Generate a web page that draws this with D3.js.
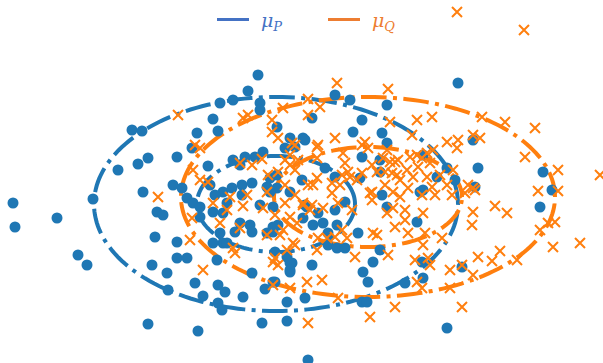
<!DOCTYPE html>
<html>
<head>
<meta charset="utf-8">
<script src="https://cdn.jsdelivr.net/npm/d3@7"></script>
<style>
  body { margin: 0; background: #fff; }
  #chart-div svg { display: block; }
</style>
</head>
<body>
<div id="chart-div"></div>
<script>
// samples from P (blue dots) in plot units (x right, y down)
const pSamples = [
  [258,75],[248,91],[458,83],[132,130],[142,131],[220,103],[233,100],[260,103],[260,110],[213,119],
  [197,133],[218,131],[192,148],[177,157],[148,158],[138,164],[118,170],[143,192],[173,185],[182,188],
  [187,198],[93,199],[13,203],[15,227],[57,218],[78,255],[87,265],[155,237],[177,242],[152,265],
  [167,273],[177,258],[187,258],[195,283],[168,290],[203,296],[218,285],[225,292],[243,297],[218,303],
  [222,310],[148,324],[198,331],[262,323],[287,321],[287,302],[265,289],[273,282],[252,273],[217,260],
  [223,243],[213,243],[220,233],[157,212],[163,215],[200,217],[240,223],[250,225],[252,232],[267,233],
  [273,232],[278,225],[275,252],[287,257],[290,272],[292,263],[208,166],[233,160],[245,157],[255,157],
  [263,152],[240,165],[210,185],[223,192],[232,188],[242,185],[252,183],[215,195],[242,195],[267,187],
  [193,203],[200,207],[227,203],[260,205],[223,213],[213,212],[235,232],[227,243],[277,127],[290,138],
  [303,138],[285,148],[295,147],[335,95],[350,100],[387,105],[312,118],[362,120],[353,132],[382,133],
  [305,140],[387,143],[362,157],[380,160],[325,168],[360,178],[447,168],[478,168],[437,177],[423,190],
  [475,187],[543,172],[552,190],[540,207],[473,140],[305,205],[382,195],[420,192],[423,155],[455,180],
  [270,178],[277,175],[335,177],[277,188],[302,180],[290,192],[270,192],[387,207],[417,222],[380,250],
  [405,283],[423,278],[462,267],[422,262],[273,207],[307,207],[303,218],[318,213],[313,225],[323,223],
  [328,233],[337,225],[335,210],[345,202],[328,245],[337,248],[345,248],[358,233],[273,227],[290,263],
  [290,270],[312,265],[373,262],[363,272],[368,282],[275,282],[305,298],[362,302],[367,302],[447,328],
  [308,360],[380,172]
];

// samples from Q (orange crosses)
const qSamples = [
  [457,12],[524,30],[337,83],[388,89],[308,99],[320,107],[308,115],[283,108],[178,115],[243,118],
  [248,115],[272,120],[272,132],[278,138],[195,145],[200,148],[292,143],[285,160],[240,163],[252,165],
  [262,159],[193,170],[200,180],[208,182],[268,175],[158,197],[230,197],[247,195],[267,192],[285,203],
  [213,203],[243,206],[335,138],[362,145],[295,145],[318,145],[290,155],[298,160],[290,165],[317,158],
  [345,163],[368,148],[362,173],[372,165],[278,172],[295,170],[317,178],[285,185],[342,175],[340,185],
  [350,177],[332,183],[308,185],[357,180],[295,195],[332,193],[370,193],[365,142],[417,120],[432,117],
  [390,122],[412,135],[447,142],[458,140],[473,135],[480,138],[457,148],[417,155],[427,153],[422,158],
  [433,150],[390,162],[398,160],[410,157],[385,172],[397,175],[407,170],[418,167],[430,163],[400,180],
  [413,177],[427,177],[440,175],[453,170],[385,185],[393,192],[408,188],[432,187],[447,185],[468,185],
  [435,195],[452,195],[465,193],[475,190],[422,195],[400,197],[317,147],[343,153],[387,150],[383,158],
  [395,162],[377,172],[392,173],[313,185],[348,172],[303,205],[372,200],[372,192],[482,117],[505,122],
  [535,128],[525,157],[558,170],[600,175],[473,188],[538,191],[558,191],[495,206],[507,213],[473,212],
  [472,225],[548,223],[555,222],[540,230],[553,247],[580,243],[500,251],[478,257],[492,261],[517,260],
  [473,275],[192,218],[227,210],[220,223],[240,228],[263,208],[267,235],[190,240],[233,248],[235,253],
  [203,270],[273,285],[290,288],[275,258],[278,265],[287,250],[293,243],[290,217],[283,230],[303,203],
  [312,205],[323,208],[338,203],[352,210],[275,215],[297,223],[280,235],[295,245],[273,262],[318,238],
  [317,250],[327,238],[335,237],[342,230],[347,238],[355,257],[307,282],[322,280],[338,298],[373,233],
  [310,210],[377,235],[388,255],[423,213],[425,233],[423,245],[442,238],[415,260],[428,258],[430,265],
  [417,282],[422,288],[450,270],[462,265],[462,307],[395,307],[370,317],[308,323],[393,208],[387,213],
  [405,210],[395,227],[405,220],[408,233],[450,288]
];

// covariance contours: mean and semi-axes (inner, outer)
const muP = [276, 204];
const muQ = [368, 197];
const pRadii = [[79, 48], [182, 107]];
const qRadii = [[94, 50], [187, 100]];

const legendLabels = [["\u03bc", "P"], ["\u03bc", "Q"]];

const width = 603, height = 363;
const dotColor = "#1f77b4", crossColor = "#ff7f0e";
const legendColors = ["#4472C4", "#ED7D31"];

var x = d3.scaleLinear().domain([0, 603]).range([0, width]);
var y = d3.scaleLinear().domain([0, 363]).range([0, height]);

var svg = d3.select("#chart-div").append("svg")
  .attr("width", width)
  .attr("height", height);

// ellipse path, starting at the right and going counter-clockwise like matplotlib
var ellipsePath = (c, r) => {
  var pts = d3.range(0, 361, 2).map(a => {
    var t = a * Math.PI / 180;
    return [x(c[0] + r[0] * Math.cos(t)), y(c[1] - r[1] * Math.sin(t))];
  });
  return d3.line()(pts);
};

var contours = [];
pRadii.forEach(r => contours.push({c: muP, r: r, color: dotColor}));
qRadii.forEach(r => contours.push({c: muQ, r: r, color: crossColor}));

// dash-dot contours (under the markers)
svg.append("g")
  .selectAll("path")
  .data(contours)
  .enter().append("path")
    .attr("d", d => ellipsePath(d.c, d.r))
    .attr("fill", "none")
    .attr("stroke", d => d.color)
    .attr("stroke-width", 4)
    .attr("stroke-dasharray", "25.6,6.4,4,6.4");

// blue dots
svg.append("g")
  .selectAll("circle")
  .data(pSamples)
  .enter().append("circle")
    .attr("cx", d => x(d[0]))
    .attr("cy", d => y(d[1]))
    .attr("r", 5.5)
    .attr("fill", dotColor);

// orange crosses
var s = 5;
svg.append("g")
  .selectAll("path")
  .data(qSamples)
  .enter().append("path")
    .attr("d", d => {
      var cx = x(d[0]), cy = y(d[1]);
      return "M" + (cx - s) + "," + (cy - s) + "L" + (cx + s) + "," + (cy + s) +
             "M" + (cx - s) + "," + (cy + s) + "L" + (cx + s) + "," + (cy - s);
    })
    .attr("stroke", crossColor)
    .attr("stroke-width", 2)
    .attr("fill", "none");

// legend
var legend = svg.append("g").attr("class", "legend");
var legendX = [217, 328];
legendLabels.forEach((lab, i) => {
  var g = legend.append("g").attr("transform", "translate(" + legendX[i] + ",0)");
  g.append("line")
    .attr("x1", 0).attr("x2", 32)
    .attr("y1", 19.5).attr("y2", 19.5)
    .attr("stroke", legendColors[i])
    .attr("stroke-width", 3);
  var t = g.append("text")
    .attr("x", 44).attr("y", 27)
    .attr("fill", legendColors[i])
    .style("font-family", "'DejaVu Serif', 'Liberation Serif', serif")
    .style("font-style", "italic")
    .style("font-size", "19px");
  t.append("tspan").text(lab[0]);
  t.append("tspan").attr("dy", 4).style("font-size", "13px").text(lab[1]);
});
</script>
</body>
</html>
